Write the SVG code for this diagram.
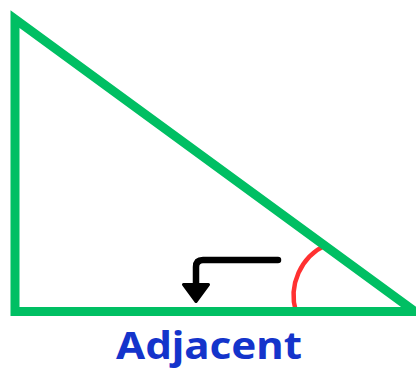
<svg xmlns="http://www.w3.org/2000/svg" width="416" height="370" viewBox="0 0 416 370">
  <style>
    .tri { fill: none; stroke: #00BF63; stroke-width: 9; stroke-linejoin: miter; stroke-miterlimit: 10; }
    .angle { fill: none; stroke: #FF3131; stroke-width: 4.5; }
    .arrow { fill: none; stroke: #000000; stroke-width: 6.5; stroke-linecap: round; stroke-linejoin: round; }
    .head { fill: #000000; stroke: #000000; stroke-width: 3; stroke-linejoin: round; }
    .label { font-family: "Noto Sans", "Liberation Sans", sans-serif; font-weight: bold; font-size: 38px; fill: #1434CB; }
  </style>
  <rect width="416" height="370" fill="#FFFFFF"/>
  <g id="angle-mark">
    <path class="angle" d="M 296 312 A 56 56 0 0 1 326 245"/>
  </g>
  <g id="triangle">
    <polygon class="tri" points="15,19 15,311.5 415,311.5"/>
  </g>
  <g id="connectors">
    <path class="arrow" d="M 278 260 H 203 Q 196 260 196 267 V 286"/>
    <polygon class="head" points="183.5,284.5 208.5,284.5 196,301.5"/>
  </g>
  <g id="label">
    <text class="label" x="116" y="359" textLength="186" lengthAdjust="spacingAndGlyphs">Adjacent</text>
  </g>
</svg>
